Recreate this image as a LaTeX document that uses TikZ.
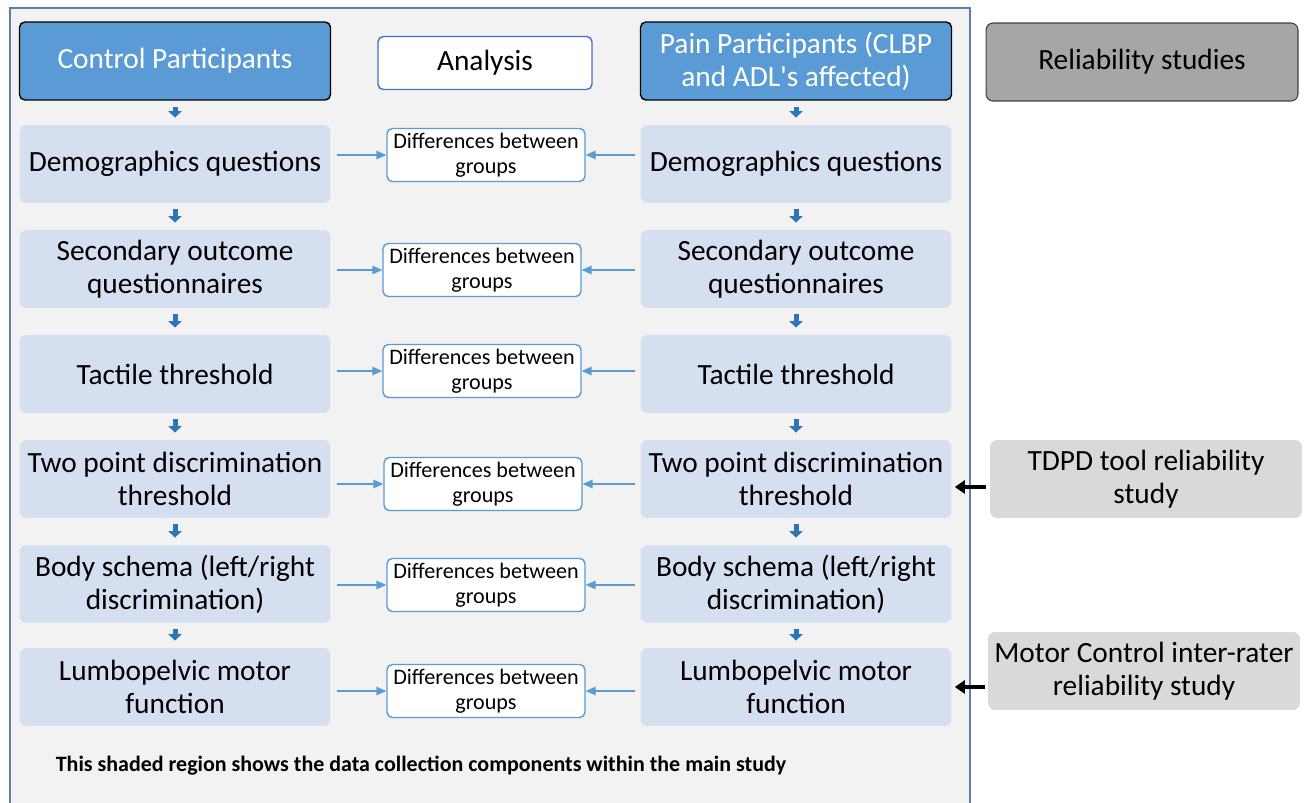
\documentclass[tikz,border=0pt]{standalone}
\usepackage{fontspec}
\setmainfont{Carlito}
\usepackage{xcolor}
\usetikzlibrary{arrows.meta}

\definecolor{headblue}{HTML}{5B9BD5}
\definecolor{stageblue}{HTML}{D6DFF0}
\definecolor{shade}{HTML}{F2F2F2}
\definecolor{frameblue}{HTML}{5B7FAE}
\definecolor{darkblue}{HTML}{2E75B6}
\definecolor{analysisblue}{HTML}{4472C4}
\definecolor{midgray}{HTML}{A6A6A6}
\definecolor{lightgray}{HTML}{D9D9D9}

\newcommand{\bodysize}{\fontsize{16.7}{18.8}\selectfont}
\newcommand{\diffsize}{\fontsize{12.6}{14.2}\selectfont}

\begin{document}
\begin{tikzpicture}[x=0.02cm, y=-0.02cm,
    every node/.style={align=center, inner sep=2pt},
    header/.style={draw=black, line width=0.8pt, fill=headblue, text=white, rounded corners=3pt,
        minimum width=6.22cm, minimum height=1.56cm, font=\bodysize},
    stage/.style={fill=stageblue, rounded corners=4pt, minimum width=6.22cm, minimum height=1.56cm, font=\bodysize},
    diff/.style={draw=headblue, line width=0.8pt, fill=white, rounded corners=3pt,
        minimum width=3.96cm, minimum height=1.06cm, font=\diffsize},
    relbox/.style={fill=lightgray, rounded corners=4pt, minimum width=6.24cm, minimum height=1.56cm, font=\bodysize},
    down/.style={darkblue, line width=0.1cm, -{Triangle[width=0.26cm,length=0.13cm]},
        shorten <=0.12cm, shorten >=0.14cm},
    link/.style={headblue, line width=0.85pt, -{Triangle[width=0.17cm,length=0.2cm]}},
    feed/.style={black, line width=1.9pt, -{Triangle[width=0.26cm,length=0.2cm]}}
]
    \useasboundingbox (0,0) rectangle (1311,803);

    % Shaded region of the main study
    \draw[frameblue, fill=shade, line width=0.6pt] (10,8) rectangle (970,830);

    % Column headers
    \node[header] (ctrl) at (175,61) {Control Participants};
    \node[draw=analysisblue, line width=0.8pt, fill=white, rounded corners=3pt,
        minimum width=4.28cm, minimum height=1.06cm, font=\bodysize] (anal) at (485,63) {Analysis};
    \node[header] (pain) at (796,61) {Pain Participants (CLBP\\and ADL\textquotesingle s affected)};

    % Data collection stages and group comparisons
    \foreach \i/\y/\mx/\my/\txt in {
        1/164/486/155/{Demographics questions},
        2/269/482/270/{Secondary outcome\\questionnaires},
        3/374/482/371/{Tactile threshold},
        4/479/483/484/{Two point discrimination\\threshold},
        5/584/486/585/{Body schema (left/right\\discrimination)},
        6/687/486/691/{Lumbopelvic motor\\function}}
    {
        \node[stage] (L\i) at (175,\y) {\txt};
        \node[stage] (R\i) at (796,\y) {\txt};
        \node[diff] (M\i) at (\mx,\my) {Differences between\\groups};
        \draw[link, shorten <=0.12cm] (L\i.east |- M\i) -- (M\i.west);
        \draw[link, shorten <=0.1cm] (R\i.west |- M\i) -- (M\i.east);
    }

    % Flow down each column
    \draw[down] (ctrl) -- (L1);
    \draw[down] (pain) -- (R1);
    \foreach \i [count=\j from 2] in {1,...,5} {
        \draw[down] (L\i) -- (L\j);
        \draw[down] (R\i) -- (R\j);
    }

    % Reliability studies
    \node[relbox, fill=midgray, draw=black!75, line width=0.6pt] (rel) at (1142,62) {Reliability studies};
    \node[relbox] (tdpd) at (1146,479) {TDPD tool reliability\\study};
    \node[relbox] (motor) at (1144,671) {Motor Control inter-rater\\reliability study};
    \draw[feed, shorten <=0.08cm, shorten >=0.06cm] (tdpd.west |- 0,487) -- (R4.east |- 0,487);
    \draw[feed, shorten <=0.06cm, shorten >=0.06cm] (motor.west |- R6) -- (R6.east);

    % Note
    \node[anchor=west, font=\bfseries\fontsize{12.5}{14}\selectfont] (note) at (52,766)
        {This shaded region shows the data collection components within the main study};
\end{tikzpicture}
\end{document}
